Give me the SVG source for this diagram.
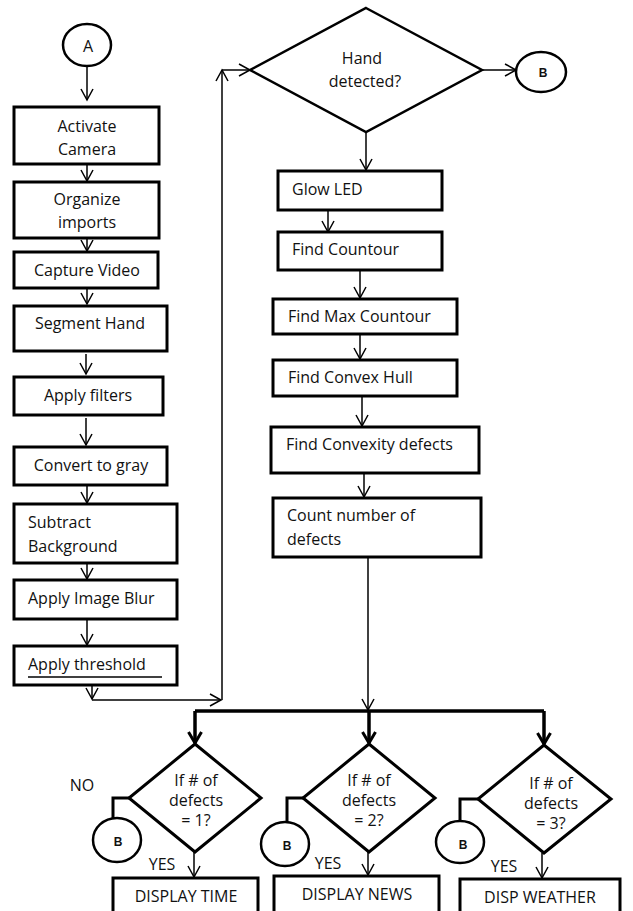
<svg xmlns="http://www.w3.org/2000/svg" width="633" height="911" viewBox="0 0 633 911">
<defs>
<marker id="a" markerWidth="16" markerHeight="16" refX="12" refY="7" orient="auto" markerUnits="userSpaceOnUse"><path d="M1,1 L12,7 L1,13" fill="none" stroke="#000" stroke-width="1.5"/></marker>
<marker id="t" markerWidth="18" markerHeight="18" refX="12" refY="8" orient="auto" markerUnits="userSpaceOnUse"><path d="M1,1.5 L12,8 L1,14.5" fill="none" stroke="#000" stroke-width="3"/></marker>
</defs>
<style>
.box{fill:#fff;stroke:#000;stroke-width:3}
.dia{fill:#fff;stroke:#000;stroke-width:3}
.circ{fill:#fff;stroke:#000;stroke-width:2.5}
.ln{fill:none;stroke:#000;stroke-width:1.5}
.arr{fill:none;stroke:#000;stroke-width:1.5;marker-end:url(#a)}
.tk{fill:none;stroke:#000;stroke-width:3.5}
.tarr{fill:none;stroke:#000;stroke-width:3.5;marker-end:url(#t)}
text{font-family:"Open Sans","Noto Sans","Liberation Sans",sans-serif;font-size:16px;fill:#111}
.c{text-anchor:middle}
.b{font-family:"Liberation Sans",Arial,sans-serif;font-weight:bold;font-size:12px;text-anchor:middle}
</style>
<rect width="633" height="911" fill="#fff"/>

<g id="connectors">
<path class="arr" d="M87,67 V100"/>
<path class="arr" d="M87,164 V181"/>
<path class="arr" d="M87,238 V251"/>
<path class="arr" d="M87,288 V304"/>
<path class="arr" d="M86,354 V374"/>
<path class="arr" d="M86,418 V445"/>
<path class="arr" d="M87,485 V503"/>
<path class="arr" d="M87,563 V579"/>
<path class="arr" d="M87,620 V645"/>
<path class="arr" d="M92,685 V699"/>
<path class="arr" d="M92,700 H221"/>
<path class="arr" d="M222,700 V70"/>
<path class="arr" d="M222,70 H250"/>
<path class="arr" d="M482,70 H516"/>
<path class="arr" d="M366,132 V170"/>
<path class="arr" d="M328,210 V232"/>
<path class="arr" d="M360,270 V298"/>
<path class="arr" d="M360,334 V359"/>
<path class="arr" d="M362,396 V426"/>
<path class="arr" d="M364,473 V497"/>
<path class="arr" d="M368,557 V710"/>
<path class="tk" d="M195,711 H544"/>
<path class="tarr" d="M195,711 V743"/>
<path class="tarr" d="M369,711 V743"/>
<path class="tarr" d="M544,711 V744"/>
<path class="arr" d="M194,852 V877"/>
<path class="arr" d="M368,852 V875"/>
<path class="arr" d="M542,853 V878"/>
<path class="tk" style="stroke-width:3" d="M129,798 H113 V818"/>
<path class="tk" style="stroke-width:3" d="M303,798 H287 V822"/>
<path class="tk" style="stroke-width:3" d="M478,799 H460 V822"/>
</g>

<g id="startA"><ellipse class="circ" cx="87" cy="45" rx="24" ry="21"/><text class="c" x="88" y="52">A</text></g>
<g id="n1"><rect class="box" x="14" y="107" width="145" height="57"/><text class="c" x="87" y="132">Activate</text><text class="c" x="87" y="155">Camera</text></g>
<g id="n2"><rect class="box" x="14" y="182" width="145" height="56"/><text class="c" x="87" y="205">Organize</text><text class="c" x="87" y="228">imports</text></g>
<g id="n3"><rect class="box" x="14" y="252" width="144" height="36"/><text class="c" x="87" y="276">Capture Video</text></g>
<g id="n4"><rect class="box" x="14" y="306" width="153" height="45"/><text class="c" x="90" y="329">Segment Hand</text></g>
<g id="n5"><rect class="box" x="14" y="377" width="149" height="38"/><text class="c" x="88" y="401">Apply filters</text></g>
<g id="n6"><rect class="box" x="14" y="447" width="153" height="38"/><text class="c" x="91" y="471">Convert to gray</text></g>
<g id="n7"><rect class="box" x="14" y="504" width="163" height="59"/><text x="28" y="528">Subtract</text><text x="28" y="552">Background</text></g>
<g id="n8"><rect class="box" x="14" y="580" width="163" height="39"/><text x="28" y="604">Apply Image Blur</text></g>
<g id="n9"><rect class="box" x="14" y="646" width="163" height="39"/><text x="28" y="670">Apply threshold</text><line x1="28" y1="677" x2="162" y2="677" stroke="#000" stroke-width="1.5"/></g>

<g id="handDetected"><polygon class="dia" style="stroke-width:2.5" points="366,8 482,70 366,132 250,70"/><text class="c" x="362" y="64">Hand</text><text class="c" x="365" y="87">detected?</text></g>
<g id="bTop"><ellipse class="circ" cx="541" cy="72" rx="25" ry="20"/><text class="b" x="543" y="77">B</text></g>

<g id="m1"><rect class="box" x="278" y="171" width="164" height="39"/><text x="292" y="195">Glow LED</text></g>
<g id="m2"><rect class="box" x="278" y="232" width="164" height="38"/><text x="292" y="255">Find Countour</text></g>
<g id="m3"><rect class="box" x="273" y="299" width="184" height="35"/><text x="288" y="322">Find Max Countour</text></g>
<g id="m4"><rect class="box" x="273" y="360" width="184" height="36"/><text x="288" y="383">Find Convex Hull</text></g>
<g id="m5"><rect class="box" x="271" y="427" width="208" height="46"/><text x="286" y="450">Find Convexity defects</text></g>
<g id="m6"><rect class="box" x="273" y="498" width="208" height="59"/><text x="287" y="521">Count number of</text><text x="287" y="545">defects</text></g>

<g id="d1"><polygon class="dia" points="195,744 261,798 195,852 129,798"/><text class="c" x="196" y="786">If # of</text><text class="c" x="196" y="806">defects</text><text class="c" x="196" y="826">= 1?</text></g>
<g id="d2"><polygon class="dia" points="369,744 435,798 369,852 303,798"/><text class="c" x="369" y="786">If # of</text><text class="c" x="369" y="806">defects</text><text class="c" x="369" y="826">= 2?</text></g>
<g id="d3"><polygon class="dia" points="544,745 611,799 544,853 478,799"/><text class="c" x="551" y="789">If # of</text><text class="c" x="551" y="809">defects</text><text class="c" x="551" y="829">= 3?</text></g>

<g id="b1"><ellipse class="circ" cx="117" cy="840" rx="24" ry="22"/><text class="b" x="118" y="846">B</text></g>
<g id="b2"><ellipse class="circ" cx="285" cy="844" rx="24" ry="22"/><text class="b" x="287" y="850">B</text></g>
<g id="b3"><ellipse class="circ" cx="460" cy="842" rx="24" ry="21"/><text class="b" x="463" y="849">B</text></g>

<g id="labels">
<text class="c" x="82" y="791">NO</text>
<text class="c" x="162" y="870">YES</text>
<text class="c" x="328" y="869">YES</text>
<text class="c" x="504" y="872">YES</text>
</g>

<g id="o1"><rect class="box" x="113" y="878" width="145" height="45"/><text class="c" x="186" y="902">DISPLAY TIME</text></g>
<g id="o2"><rect class="box" x="274" y="876" width="165" height="47"/><text class="c" x="357" y="900">DISPLAY NEWS</text></g>
<g id="o3"><rect class="box" x="460" y="879" width="160" height="44"/><text class="c" x="540" y="903">DISP WEATHER</text></g>
</svg>
